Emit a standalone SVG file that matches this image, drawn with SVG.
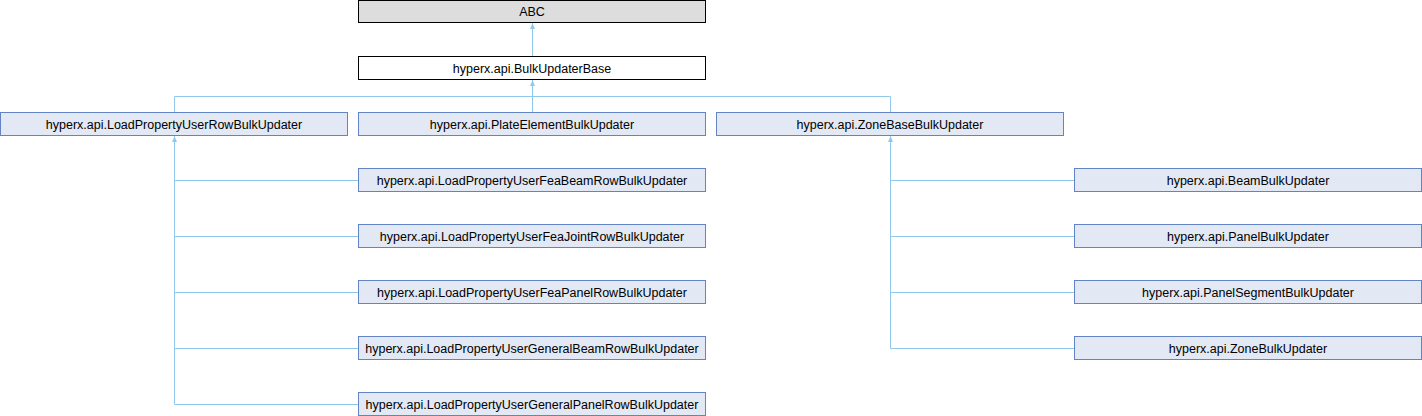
<svg xmlns="http://www.w3.org/2000/svg" width="1422" height="416" viewBox="0 0 1422 416">
<defs>
<style>
.n rect{fill:#E2E8F4;stroke:#6284C4;stroke-width:1}
.n text{font-family:"Liberation Sans",Arial,sans-serif;font-size:12.5px;fill:#000;text-anchor:middle}
#abc rect{fill:#DDDDDD;stroke:#000}
#base rect{fill:#FFFFFF;stroke:#000}
.e{fill:none;stroke:#90C9EC;stroke-width:1}
</style>
<marker id="ah" viewBox="0 0 6 6" refX="6" refY="3" markerWidth="6" markerHeight="6" markerUnits="userSpaceOnUse" orient="auto">
<path d="M0,0.5 L6,3 L0,5.5 Z" fill="#90C9EC"/>
</marker>
</defs>
<g id="connectors">
<path class="e" d="M532.5,57 V23" marker-end="url(#ah)"/>
<path class="e" d="M532.5,112 V80" marker-end="url(#ah)"/>
<path class="e" d="M174.5,112 V96.5 H890.5 V112"/>
<path class="e" d="M174.5,404.5 V136" marker-end="url(#ah)"/>
<path class="e" d="M174.5,180.5 H358"/>
<path class="e" d="M174.5,236.5 H358"/>
<path class="e" d="M174.5,292.5 H358"/>
<path class="e" d="M174.5,348.5 H358"/>
<path class="e" d="M174.5,404.5 H358"/>
<path class="e" d="M890.5,348.5 V136" marker-end="url(#ah)"/>
<path class="e" d="M890.5,180.5 H1074"/>
<path class="e" d="M890.5,236.5 H1074"/>
<path class="e" d="M890.5,292.5 H1074"/>
<path class="e" d="M890.5,348.5 H1074"/>
</g>
<g id="abc" class="n"><rect x="358.5" y="0.5" width="347" height="22"/><text x="532" y="16">ABC</text></g>
<g id="base" class="n"><rect x="358.5" y="56.5" width="347" height="23"/><text x="532" y="72.5">hyperx.api.BulkUpdaterBase</text></g>
<g id="loadrow" class="n"><rect x="0.5" y="112.5" width="347" height="23"/><text x="174" y="128.5">hyperx.api.LoadPropertyUserRowBulkUpdater</text></g>
<g id="plate" class="n"><rect x="358.5" y="112.5" width="347" height="23"/><text x="532" y="128.5">hyperx.api.PlateElementBulkUpdater</text></g>
<g id="zonebase" class="n"><rect x="716.5" y="112.5" width="347" height="23"/><text x="890" y="128.5">hyperx.api.ZoneBaseBulkUpdater</text></g>
<g id="feabeam" class="n"><rect x="358.5" y="168.5" width="347" height="23"/><text x="532" y="184.5">hyperx.api.LoadPropertyUserFeaBeamRowBulkUpdater</text></g>
<g id="feajoint" class="n"><rect x="358.5" y="224.5" width="347" height="23"/><text x="532" y="240.5">hyperx.api.LoadPropertyUserFeaJointRowBulkUpdater</text></g>
<g id="feapanel" class="n"><rect x="358.5" y="280.5" width="347" height="23"/><text x="532" y="296.5">hyperx.api.LoadPropertyUserFeaPanelRowBulkUpdater</text></g>
<g id="genbeam" class="n"><rect x="358.5" y="336.5" width="347" height="23"/><text x="532" y="352.5">hyperx.api.LoadPropertyUserGeneralBeamRowBulkUpdater</text></g>
<g id="genpanel" class="n"><rect x="358.5" y="392.5" width="347" height="23"/><text x="532" y="408.5">hyperx.api.LoadPropertyUserGeneralPanelRowBulkUpdater</text></g>
<g id="beam" class="n"><rect x="1074.5" y="168.5" width="347" height="23"/><text x="1248" y="184.5">hyperx.api.BeamBulkUpdater</text></g>
<g id="panel" class="n"><rect x="1074.5" y="224.5" width="347" height="23"/><text x="1248" y="240.5">hyperx.api.PanelBulkUpdater</text></g>
<g id="panelseg" class="n"><rect x="1074.5" y="280.5" width="347" height="23"/><text x="1248" y="296.5">hyperx.api.PanelSegmentBulkUpdater</text></g>
<g id="zone" class="n"><rect x="1074.5" y="336.5" width="347" height="23"/><text x="1248" y="352.5">hyperx.api.ZoneBulkUpdater</text></g>
</svg>
